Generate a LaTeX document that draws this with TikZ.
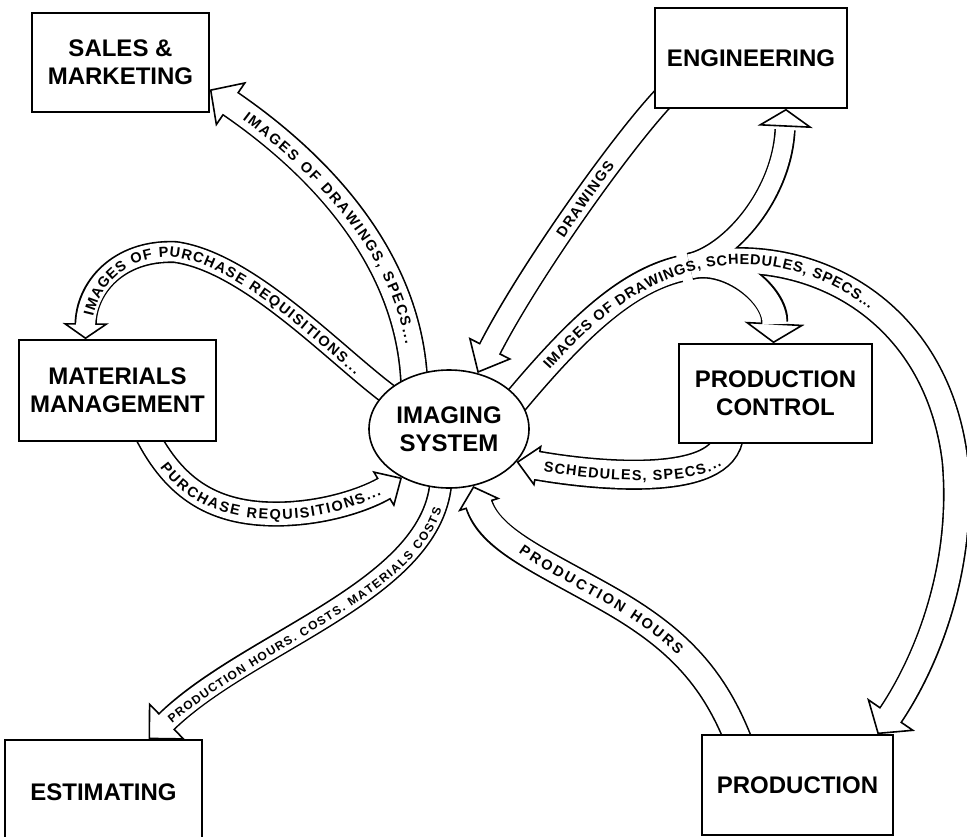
\documentclass[tikz,border=0pt]{standalone}
\usepackage{fontspec}
\setmainfont{Liberation Sans}
\usetikzlibrary{arrows.meta,shapes.geometric,decorations.text,backgrounds}

\newcommand{\boxfont}{\fontsize{24}{28}\selectfont\bfseries}
\newcommand{\flowfont}{\fontsize{14.5}{17}\selectfont\bfseries}
\newcommand{\smallflowfont}{\fontsize{12}{14}\selectfont\bfseries}

\tikzset{
    bw/.store in=\bandw, hl/.store in=\headl, hw/.store in=\headw,
    ext/.store in=\bandext, tr/.store in=\textraise, ff/.store in=\flowfmt,
    bw=22pt, hl=22pt, hw=48pt, ext=10pt, tr=-5.2pt, ff=\flowfont,
    dept/.style={draw, line width=1.6pt, fill=white, align=center, font=\boxfont, inner sep=0pt},
    % hollow band arrows: black outline, white inside, white-filled head
    band outline/.style={draw=black, line width=\bandw+3.2pt, shorten >=\headl-1pt, shorten <=-\bandext},
    band inside/.style={draw=white, line width=\bandw, shorten >=\headl-3pt, shorten <=-\bandext},
    band head/.style={draw=white, line width=0.2pt, shorten >=0pt, shorten <=0pt,
        -{Triangle[color=black, fill=white, line width=1.6pt, length=\headl, width=\headw]}},
    band tip/.style={preaction={band head}, band inside},
    flow/.style={preaction={band outline}, preaction={band head}, preaction={band inside}},
    flow text/.style n args={3}{postaction={decorate, decoration={text along path,
        raise=\textraise, text align={left indent=#1, right indent=#2, fit to path},
        text={|\flowfmt|#3}}}},
    flow text rev/.style n args={3}{postaction={decorate, decoration={text along path, reverse path,
        raise=\textraise, text align={left indent=#1, right indent=#2, fit to path},
        text={|\flowfmt|#3}}}},
}

\begin{document}
\begin{tikzpicture}[x=1pt, y=-1pt]
    \useasboundingbox (0,0) rectangle (967,836);

    \node[dept, minimum width=177pt, minimum height=99pt] (sales) at (120.5,62.5) {SALES \&\\MARKETING};
    \node[dept, minimum width=192pt, minimum height=100pt] (eng) at (751,58) {ENGINEERING};
    \node[dept, minimum width=197pt, minimum height=101pt] (mm) at (117.5,390.5) {MATERIALS\\MANAGEMENT};
    \node[dept, minimum width=193pt, minimum height=99pt] (pc) at (775.5,393.5) {PRODUCTION\\CONTROL};
    \node[dept, minimum width=197pt, minimum height=104pt] (est) at (103.5,792) {ESTIMATING};
    \node[dept, minimum width=191pt, minimum height=100pt] (prod) at (797.5,785) {PRODUCTION};
    \node[dept, ellipse, minimum width=160pt, minimum height=118pt] (img) at (449,429) {IMAGING\\SYSTEM};

    % where the split band forks
    \coordinate (K) at (700,264);
    \coordinate (Ke) at ([shift={(-0.7,-2.9)}]K);

    \begin{scope}[on background layer]
        % to sales & marketing
        \path[flow, bw=25pt, hl=26pt, hw=54pt,
              flow text rev={44pt}{32pt}{IMAGES OF DRAWINGS, SPECS...}]
            (img.123) .. controls (410,260) and (320,165) .. ([yshift=-27pt]sales.east);
        % to materials management
        \path[flow, bw=19pt, hl=16pt, hw=46pt,
              flow text rev={24pt}{34pt}{IMAGES OF PURCHASE REQUISITIONS...}]
            (img.150) .. controls (340,360) and (250,262) .. (175,252)
                      .. controls (118,250) and (86,288) .. ([xshift=-32pt]mm.north);
        % from materials management
        \path[flow, bw=22pt, hl=22pt, hw=42pt,
              flow text={26pt}{26pt}{PURCHASE REQUISITIONS...}]
            ([xshift=33pt]mm.south) .. controls (175,490) and (215,515) .. (280,514)
                      .. controls (330,513) and (370,497) .. (img.226);
        % to estimating
        \path[flow, bw=20pt, hl=26pt, hw=52pt, ff=\smallflowfont, tr=-4.3pt,
              flow text rev={28pt}{20pt}{PRODUCTION HOURS. COSTS. MATERIALS COSTS}]
            (img.262) .. controls (436,590) and (250,640) .. ([xshift=45pt]est.north);
        % from engineering
        \path[flow, bw=21pt, hl=28pt, hw=48pt,
              flow text rev={160pt}{85pt}{DRAWINGS}]
            ([shift={(10,-12)}]eng.south west) .. controls (630,130) and (530,270) .. (img.63);
        % from production control
        \path[flow, bw=27pt, hl=22pt, hw=42pt,
              flow text rev={28pt}{20pt}{SCHEDULES, SPECS...}]
            ([xshift=-47pt]pc.south) .. controls (725,490) and (590,475) .. (img.334);
        % from production
        \path[flow, bw=25pt, hl=20pt, hw=44pt,
              flow text rev={80pt}{100pt}{PRODUCTION HOURS}]
            ([xshift=-61.5pt]prod.north) .. controls (715,680) and (680,640) .. (610,600)
                      .. controls (540,560) and (490,540) .. (img.293);

        % split band: engineering, production control, production
        \path[band outline, bw=24pt, hl=0pt] (img.24) .. controls (575,330) and (625,282) .. (K);
        \path[band outline, bw=18pt, hl=18pt, ext=15pt]
            (Ke) .. controls (730,254) and (782,195) .. ([xshift=35pt]eng.south);
        \path[band outline, bw=24pt, hl=20pt, ext=15pt]
            (K) .. controls (729,257) and (776,295) .. ([xshift=-2pt]pc.north);
        \path[band outline, bw=24pt, hl=24pt, ext=15pt]
            (K) .. controls (797,241) and (935,300) .. (955,460)
                .. controls (965,570) and (925,665) .. ([xshift=80pt]prod.north);
        \path[band inside, bw=24pt, hl=0pt] (img.24) .. controls (575,330) and (625,282) .. (K);
        \path[band tip, bw=18pt, hl=18pt, hw=55pt, ext=15pt]
            (Ke) .. controls (730,254) and (782,195) .. ([xshift=35pt]eng.south);
        \path[band tip, bw=24pt, hl=20pt, hw=60pt, ext=15pt]
            (K) .. controls (729,257) and (776,295) .. ([xshift=-2pt]pc.north);
        \path[band tip, bw=24pt, hl=24pt, hw=58pt, ext=15pt]
            (K) .. controls (797,241) and (935,300) .. (955,460)
                .. controls (965,570) and (925,665) .. ([xshift=80pt]prod.north);
        \path[flow text={42pt}{180pt}{IMAGES OF DRAWINGS, SCHEDULES, SPECS...}]
            (img.24) .. controls (575,330) and (625,282) .. (K)
                     .. controls (797,241) and (935,300) .. (955,460);
    \end{scope}
\end{tikzpicture}
\end{document}
